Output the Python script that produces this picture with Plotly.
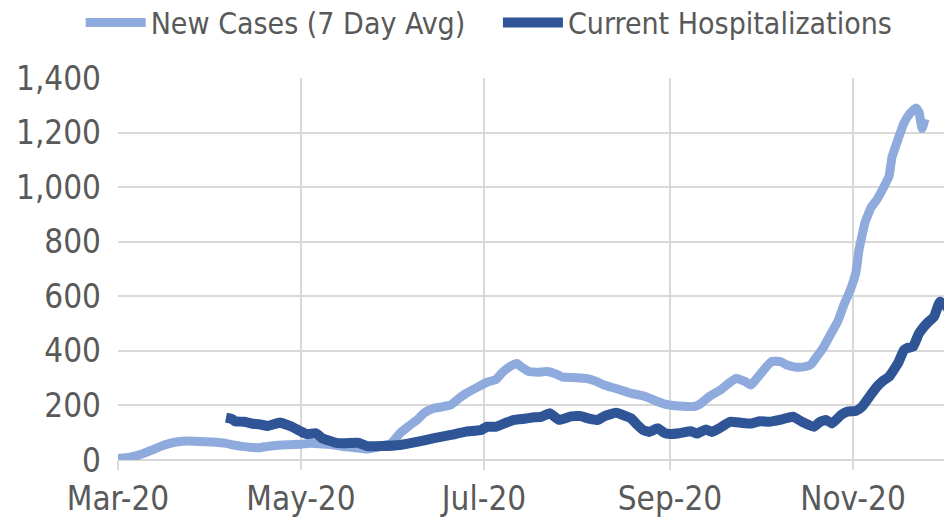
import plotly.graph_objects as go

# New Cases (7 Day Avg)
case_dates = [
    "2020-03-01", "2020-03-05", "2020-03-09", "2020-03-12", "2020-03-15", "2020-03-18",
    "2020-03-21", "2020-03-24", "2020-03-28", "2020-04-01", "2020-04-06", "2020-04-09",
    "2020-04-12", "2020-04-15", "2020-04-17", "2020-04-20", "2020-04-23", "2020-04-27",
    "2020-05-01", "2020-05-04", "2020-05-06", "2020-05-12", "2020-05-16", "2020-05-21",
    "2020-05-23", "2020-05-26", "2020-05-31", "2020-06-03", "2020-06-06", "2020-06-09",
    "2020-06-11", "2020-06-14", "2020-06-17", "2020-06-20", "2020-06-22", "2020-06-25",
    "2020-06-29", "2020-07-02", "2020-07-05", "2020-07-07", "2020-07-10", "2020-07-12",
    "2020-07-13", "2020-07-16", "2020-07-19", "2020-07-22", "2020-07-25", "2020-07-27",
    "2020-07-31", "2020-08-04", "2020-08-07", "2020-08-10", "2020-08-14", "2020-08-19",
    "2020-08-22", "2020-08-24", "2020-08-27", "2020-08-30", "2020-09-02", "2020-09-04",
    "2020-09-09", "2020-09-11", "2020-09-14", "2020-09-18", "2020-09-21", "2020-09-23",
    "2020-09-26", "2020-09-28", "2020-09-30", "2020-10-03", "2020-10-05", "2020-10-08",
    "2020-10-10", "2020-10-13", "2020-10-16", "2020-10-18", "2020-10-20", "2020-10-22",
    "2020-10-24", "2020-10-27", "2020-10-29", "2020-10-31", "2020-11-02", "2020-11-03",
    "2020-11-05", "2020-11-07", "2020-11-09", "2020-11-11", "2020-11-13", "2020-11-14",
    "2020-11-16", "2020-11-18", "2020-11-20", "2020-11-22", "2020-11-23", "2020-11-24",
    "2020-11-25",
]
new_cases = [
    5, 10, 22, 35, 49, 60,
    67, 70, 68, 66, 61, 54,
    49, 46, 45, 50, 54, 56,
    58, 61, 60, 55, 48, 43,
    40, 46, 61, 98, 125, 150,
    172, 189, 195, 202, 220, 244,
    268, 285, 295, 320, 345, 354,
    345, 324, 322, 324, 315, 305,
    302, 299, 290, 275, 262, 244,
    238, 232, 218, 206, 200, 198,
    196, 205, 232, 258, 285, 299,
    288, 275, 300, 340, 362, 360,
    348, 340, 342, 350, 380, 410,
    450, 510, 570, 620, 690, 770,
    870, 925, 955, 995, 1040, 1110,
    1175, 1235, 1270, 1290, 1275, 1215,
    1250,
]

# Current Hospitalizations
hosp_dates = [
    "2020-04-06", "2020-04-08", "2020-04-09", "2020-04-12", "2020-04-15", "2020-04-17",
    "2020-04-20", "2020-04-24", "2020-04-26", "2020-04-28", "2020-05-01", "2020-05-03",
    "2020-05-06", "2020-05-08", "2020-05-12", "2020-05-15", "2020-05-20", "2020-05-23",
    "2020-05-28", "2020-06-03", "2020-06-09", "2020-06-14", "2020-06-20", "2020-06-25",
    "2020-06-30", "2020-07-02", "2020-07-05", "2020-07-08", "2020-07-11", "2020-07-15",
    "2020-07-17", "2020-07-20", "2020-07-23", "2020-07-26", "2020-07-30", "2020-08-02",
    "2020-08-05", "2020-08-08", "2020-08-10", "2020-08-14", "2020-08-17", "2020-08-19",
    "2020-08-21", "2020-08-23", "2020-08-25", "2020-08-28", "2020-08-30", "2020-09-01",
    "2020-09-04", "2020-09-08", "2020-09-10", "2020-09-13", "2020-09-15", "2020-09-18",
    "2020-09-21", "2020-09-25", "2020-09-28", "2020-10-01", "2020-10-04", "2020-10-08",
    "2020-10-12", "2020-10-15", "2020-10-19", "2020-10-21", "2020-10-23", "2020-10-25",
    "2020-10-28", "2020-10-30", "2020-11-02", "2020-11-04", "2020-11-07", "2020-11-09",
    "2020-11-11", "2020-11-13", "2020-11-16", "2020-11-18", "2020-11-19", "2020-11-21",
    "2020-11-23", "2020-11-26", "2020-11-28", "2020-11-30", "2020-12-02", "2020-12-03",
]
hospitalizations = [
    155, 150, 142, 140, 133, 131,
    125, 137, 130, 122, 104, 95,
    98, 80, 65, 61, 63, 51,
    51, 55, 67, 79, 92, 104,
    110, 122, 122, 135, 147, 152,
    156, 158, 171, 147, 160, 161,
    152, 147, 160, 173, 162, 153,
    130, 110, 103, 116, 100, 95,
    98, 105, 97, 112, 103, 120,
    140, 136, 134, 142, 140, 148,
    159, 140, 122, 140, 147, 134,
    165, 177, 180, 195, 240, 269,
    290, 305, 355, 403, 410, 415,
    464, 505, 525, 580, 565, 550,
]

y_ticks = [0, 200, 400, 600, 800, 1000, 1200, 1400]

FONT = "DejaVu Sans Condensed, Liberation Sans Narrow, sans-serif"
GRID = "#D9D9D9"

fig = go.Figure()

fig.add_trace(go.Scatter(
    x=case_dates,
    y=new_cases,
    name="New Cases (7 Day Avg)",
    mode="lines",
    legend="legend",
    line=dict(color="#8FAADC", width=9, shape="spline", smoothing=0.4),
))

fig.add_trace(go.Scatter(
    x=hosp_dates,
    y=hospitalizations,
    name="Current Hospitalizations",
    mode="lines",
    legend="legend2",
    line=dict(color="#2F5597", width=10, shape="spline", smoothing=0.4),
))

legend_style = dict(
    orientation="h",
    xref="container", xanchor="left",
    yref="paper", y=1.145, yanchor="middle",
    itemwidth=60,
    font=dict(family=FONT, size=30, color="#595959"),
    bgcolor="rgba(0,0,0,0)",
)

# page has an 8px body margin, so the figure is 8px smaller than the window
fig.update_layout(
    width=944,
    height=515,
    margin=dict(l=110, r=0, t=70, b=63, autoexpand=False),
    paper_bgcolor="white",
    plot_bgcolor="white",
    font=dict(family=FONT, size=30, color="#595959"),
    showlegend=True,
    legend=dict(legend_style, x=0.077),
    legend2=dict(legend_style, x=0.519),
    xaxis=dict(
        type="date",
        range=["2020-03-01", "2020-12-04"],
        tick0="2020-03-01",
        dtick="M2",
        tickformat="%b-%y",
        tickfont=dict(size=33),
        showgrid=True,
        gridcolor=GRID,
        gridwidth=2,
        ticks="outside",
        ticklen=9,
        tickwidth=2,
        tickcolor=GRID,
        showline=False,
        zeroline=False,
        ticklabelstandoff=0,
    ),
    yaxis=dict(
        range=[0, 1400],
        tickvals=y_ticks,
        tickformat=",d",
        tickfont=dict(size=33),
        showgrid=True,
        gridcolor=GRID,
        gridwidth=2,
        zeroline=True,
        zerolinecolor=GRID,
        zerolinewidth=2,
        showline=False,
        ticklabelstandoff=16,
    ),
)

fig.write_html("out.html")
